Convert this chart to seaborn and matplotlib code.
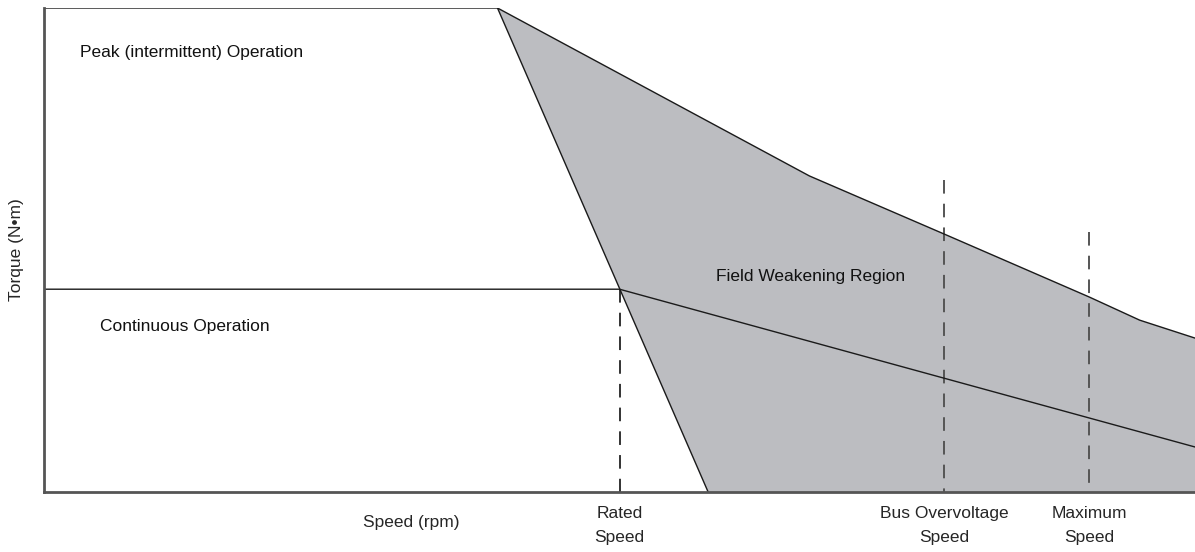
import numpy as np
import pandas as pd
import matplotlib
matplotlib.use('Agg')
import matplotlib.pyplot as plt
import seaborn as sns

# peak (intermittent) torque curve, speed and torque in % of full scale
peak_speed = [0, 39.4, 66.5, 78.4, 90.8, 95.2, 100]
peak_torque = [100, 100, 65.3, 53.1, 40.3, 35.5, 31.8]

# continuous torque curve
cont_speed = [0, 50.0, 100]
cont_torque = [41.9, 41.9, 9.3]

# steep boundary of the field weakening region
edge_speed = [39.4, 57.7]
edge_torque = [100, 0]

# marked speeds
mark_names = ['Rated\nSpeed', 'Bus Overvoltage\nSpeed', 'Maximum\nSpeed']
mark_speed = [50.0, 78.2, 90.8]
mark_top = [41.9, 64.5, 53.7]

sns.set_style('white')
plt.rcParams['font.family'] = ['Liberation Sans', 'DejaVu Sans']

fig = plt.figure(figsize=(11.95, 5.52), dpi=100)
ax = fig.add_axes([44 / 1195, 60 / 552, 1151 / 1195, 484 / 552])

# shaded field weakening region
region_x = edge_speed[:1] + peak_speed[2:] + [100, edge_speed[1]]
region_y = edge_torque[:1] + peak_torque[2:] + [0, edge_torque[1]]
ax.fill(region_x, region_y, color='#bcbdc1', lw=0, zorder=1)

peak = pd.DataFrame({'speed': peak_speed, 'torque': peak_torque})
cont = pd.DataFrame({'speed': cont_speed, 'torque': cont_torque})
edge = pd.DataFrame({'speed': edge_speed, 'torque': edge_torque})
for d in [peak, cont, edge]:
    sns.lineplot(data=d, x='speed', y='torque', sort=False, color='#1a1a1a',
                 lw=1.0, ax=ax, zorder=3)

for i, (s, t) in enumerate(zip(mark_speed, mark_top)):
    ax.plot([s, s], [t, 0], color='#333333' if i == 0 else '#555555',
            lw=1.4, dashes=(7, 5.2), zorder=2)

ax.set_xlim(0, 100)
ax.set_ylim(0, 100)
ax.set_xticks(mark_speed)
ax.set_xticklabels(mark_names, fontsize=12.5, ha='center', multialignment='center',
                   linespacing=1.75)
ax.set_yticks([])
ax.tick_params(axis='x', length=0, pad=10)

ax.set_xlabel('Speed (rpm)', fontsize=12.5)
ax.xaxis.set_label_coords((411 - 44) / 1151, -0.048)
ax.set_ylabel('Torque (N•m)', fontsize=12.5)
ax.yaxis.set_label_coords(-0.017, 0.5)

ax.text(3.1, 90.9, 'Peak (intermittent) Operation', fontsize=12.5, va='center', color='#111111')
ax.text(4.9, 34.1, 'Continuous Operation', fontsize=12.5, va='center', color='#111111')
ax.text(58.4, 44.6, 'Field Weakening Region', fontsize=12.5, va='center', color='#111111')

sns.despine(ax=ax, top=True, right=True)
for side in ['left', 'bottom']:
    ax.spines[side].set_color('#555555')
    ax.spines[side].set_linewidth(2)
    ax.spines[side].set_zorder(4)

fig.savefig('out.png', dpi=100)
